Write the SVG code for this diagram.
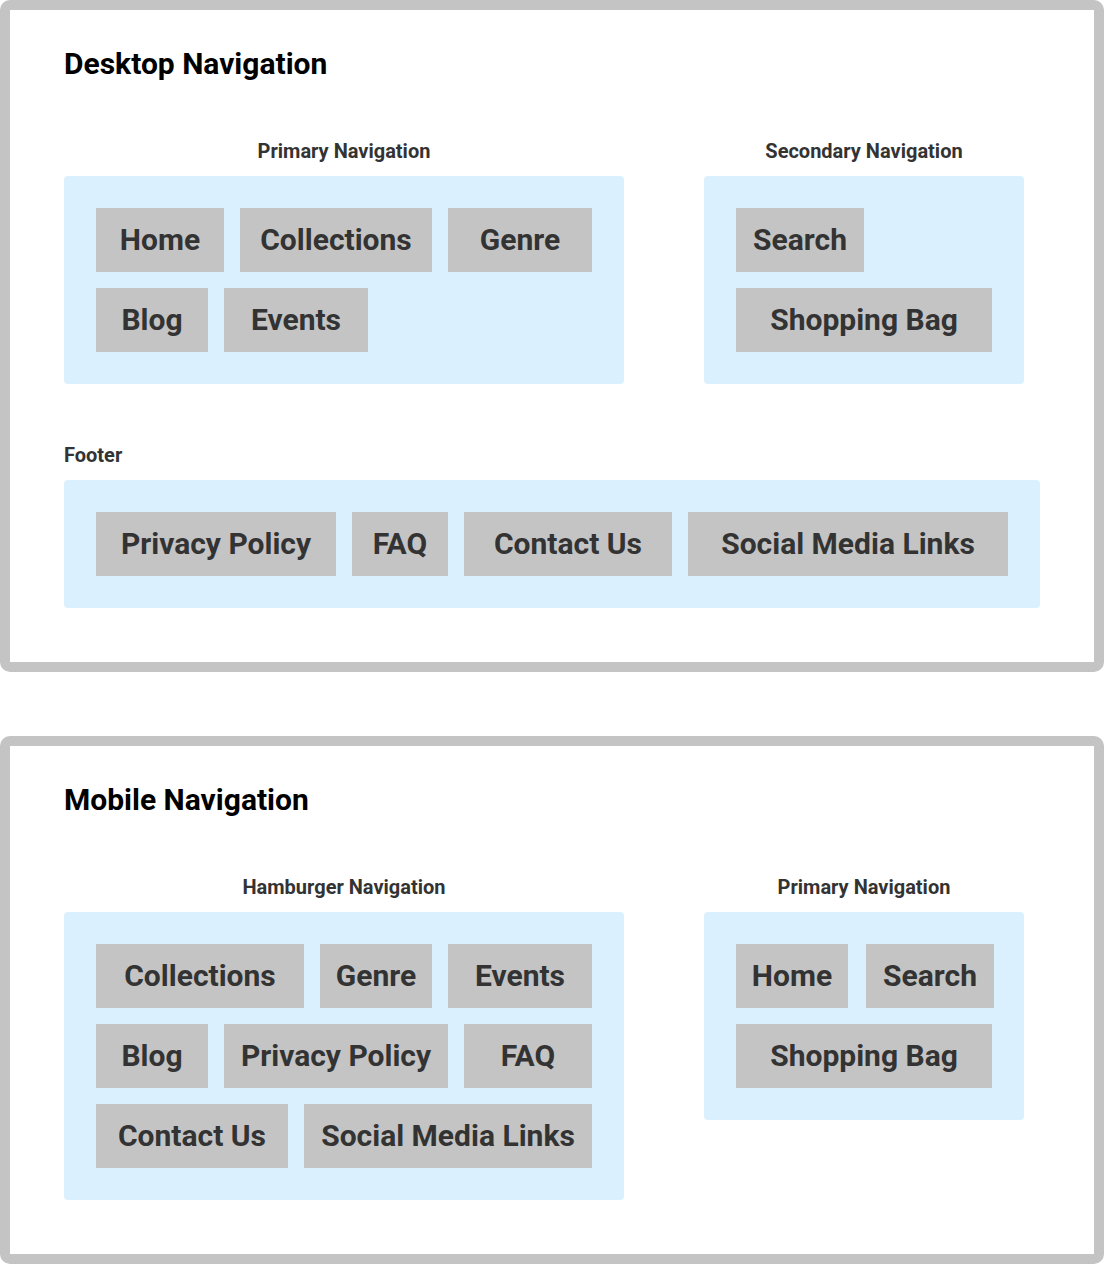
<svg xmlns="http://www.w3.org/2000/svg" width="1104" height="1264" viewBox="0 0 1104 1264">
<style>
.frame{fill:#ffffff;stroke:#c4c4c4;stroke-width:10}
.panel{fill:#dbf0fe}
.btn{fill:#c4c4c4}
.bt{font-family:Roboto,"Liberation Sans",sans-serif;font-weight:700;font-size:30px;fill:#333333;text-anchor:middle}
.title{font-family:Roboto,"Liberation Sans",sans-serif;font-weight:700;font-size:30px;fill:#000000}
.lbl{font-family:Roboto,"Liberation Sans",sans-serif;font-weight:700;font-size:20px;fill:#333333}
</style>
<rect width="1104" height="1264" fill="#ffffff"/>
<g id="desktop">
<rect class="frame" x="5" y="5" width="1094" height="662" rx="5"/>
<text class="title" x="64" y="74">Desktop Navigation</text>
</g>
<g id="desktop-primary">
<text class="lbl" x="344" y="158" text-anchor="middle">Primary Navigation</text>
<rect class="panel" x="64" y="176" width="560" height="208" rx="4"/>
<g id="d-home"><rect class="btn" x="96" y="208" width="128" height="64"/><text class="bt" x="160" y="250">Home</text></g>
<g id="d-collections"><rect class="btn" x="240" y="208" width="192" height="64"/><text class="bt" x="336" y="250">Collections</text></g>
<g id="d-genre"><rect class="btn" x="448" y="208" width="144" height="64"/><text class="bt" x="520" y="250">Genre</text></g>
<g id="d-blog"><rect class="btn" x="96" y="288" width="112" height="64"/><text class="bt" x="152" y="330">Blog</text></g>
<g id="d-events"><rect class="btn" x="224" y="288" width="144" height="64"/><text class="bt" x="296" y="330">Events</text></g>
</g>
<g id="desktop-secondary">
<text class="lbl" x="864" y="158" text-anchor="middle">Secondary Navigation</text>
<rect class="panel" x="704" y="176" width="320" height="208" rx="4"/>
<g id="d-search"><rect class="btn" x="736" y="208" width="128" height="64"/><text class="bt" x="800" y="250">Search</text></g>
<g id="d-bag"><rect class="btn" x="736" y="288" width="256" height="64"/><text class="bt" x="864" y="330">Shopping Bag</text></g>
</g>
<g id="desktop-footer">
<text class="lbl" x="64" y="462">Footer</text>
<rect class="panel" x="64" y="480" width="976" height="128" rx="4"/>
<g id="f-privacy"><rect class="btn" x="96" y="512" width="240" height="64"/><text class="bt" x="216" y="554">Privacy Policy</text></g>
<g id="f-faq"><rect class="btn" x="352" y="512" width="96" height="64"/><text class="bt" x="400" y="554">FAQ</text></g>
<g id="f-contact"><rect class="btn" x="464" y="512" width="208" height="64"/><text class="bt" x="568" y="554">Contact Us</text></g>
<g id="f-social"><rect class="btn" x="688" y="512" width="320" height="64"/><text class="bt" x="848" y="554">Social Media Links</text></g>
</g>
<g id="mobile">
<rect class="frame" x="5" y="741" width="1094" height="518" rx="5"/>
<text class="title" x="64" y="810">Mobile Navigation</text>
</g>
<g id="mobile-hamburger">
<text class="lbl" x="344" y="894" text-anchor="middle">Hamburger Navigation</text>
<rect class="panel" x="64" y="912" width="560" height="288" rx="4"/>
<g id="m-collections"><rect class="btn" x="96" y="944" width="208" height="64"/><text class="bt" x="200" y="986">Collections</text></g>
<g id="m-genre"><rect class="btn" x="320" y="944" width="112" height="64"/><text class="bt" x="376" y="986">Genre</text></g>
<g id="m-events"><rect class="btn" x="448" y="944" width="144" height="64"/><text class="bt" x="520" y="986">Events</text></g>
<g id="m-blog"><rect class="btn" x="96" y="1024" width="112" height="64"/><text class="bt" x="152" y="1066">Blog</text></g>
<g id="m-privacy"><rect class="btn" x="224" y="1024" width="224" height="64"/><text class="bt" x="336" y="1066">Privacy Policy</text></g>
<g id="m-faq"><rect class="btn" x="464" y="1024" width="128" height="64"/><text class="bt" x="528" y="1066">FAQ</text></g>
<g id="m-contact"><rect class="btn" x="96" y="1104" width="192" height="64"/><text class="bt" x="192" y="1146">Contact Us</text></g>
<g id="m-social"><rect class="btn" x="304" y="1104" width="288" height="64"/><text class="bt" x="448" y="1146">Social Media Links</text></g>
</g>
<g id="mobile-primary">
<text class="lbl" x="864" y="894" text-anchor="middle">Primary Navigation</text>
<rect class="panel" x="704" y="912" width="320" height="208" rx="4"/>
<g id="m-home"><rect class="btn" x="736" y="944" width="112" height="64"/><text class="bt" x="792" y="986">Home</text></g>
<g id="m-search"><rect class="btn" x="866" y="944" width="128" height="64"/><text class="bt" x="930" y="986">Search</text></g>
<g id="m-bag"><rect class="btn" x="736" y="1024" width="256" height="64"/><text class="bt" x="864" y="1066">Shopping Bag</text></g>
</g>
<g id="connectors"></g>
</svg>
